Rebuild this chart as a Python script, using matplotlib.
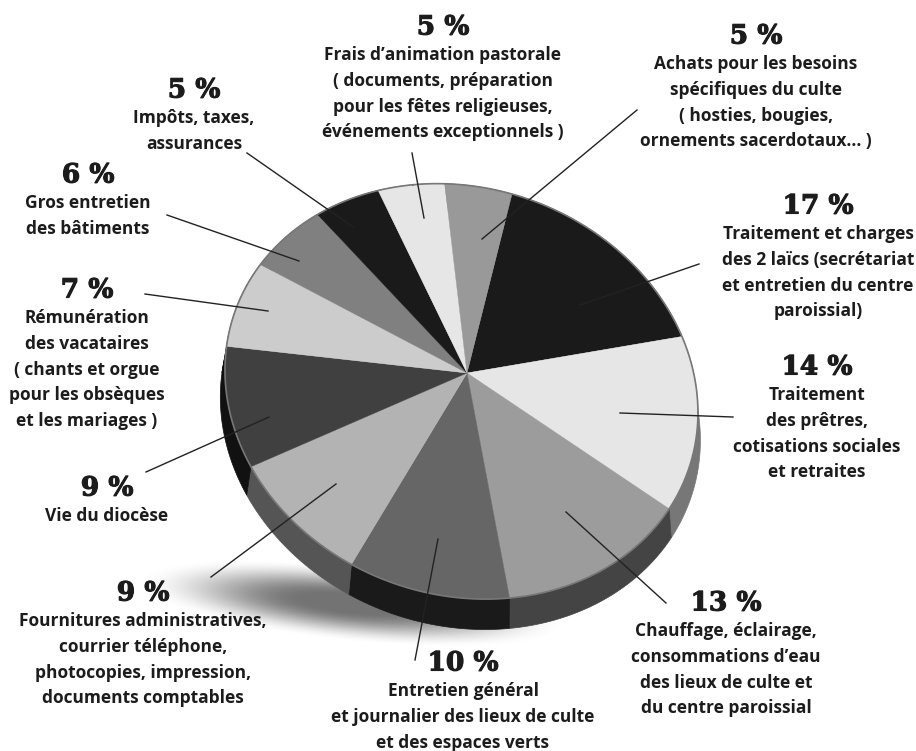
import numpy as np
import matplotlib
matplotlib.use("Agg")
import matplotlib.pyplot as plt
import matplotlib.patheffects as pe
from matplotlib.colors import LinearSegmentedColormap

# shares, clockwise from the big black slice
values = [17, 14, 13, 10, 9, 9, 7, 6, 5, 5, 5]
top_grey = ["#1a1a1a", "#e6e6e6", "#9c9c9c", "#666666", "#b3b3b3", "#404040",
            "#cccccc", "#808080", "#1a1a1a", "#e6e6e6", "#999999"]
side_grey = ["#555555", "#777777", "#444444", "#1a1a1a", "#555555", "#111111",
             "#111111", "#555555", "#555555", "#555555", "#555555"]

pct = ["17 %", "14 %", "13 %", "10 %", "9 %", "9 %", "7 %", "6 %", "5 %", "5 %", "5 %"]
labels = [
    ["Traitement et charges", "des 2 laïcs (secrétariat", "et entretien du centre", "paroissial)"],
    ["Traitement", "des prêtres,", "cotisations sociales", "et retraites"],
    ["Chauffage, éclairage,", "consommations d’eau", "des lieux de culte et", "du centre paroissial"],
    ["Entretien général", "et journalier des lieux de culte", "et des espaces verts"],
    ["Fournitures administratives,", "courrier téléphone,", "photocopies, impression,", "documents comptables"],
    ["Vie du diocèse"],
    ["Rémunération", "des vacataires", "( chants et orgue", "pour les obsèques", "et les mariages )"],
    ["Gros entretien", "des bâtiments"],
    ["Impôts, taxes,", "assurances"],
    ["Frais d’animation pastorale", "( documents, préparation", "pour les fêtes religieuses,", "événements exceptionnels )"],
    ["Achats pour les besoins", "spécifiques du culte", "( hosties, bougies,", "ornements sacerdotaux... )"],
]
label_x = [818, 817, 726, 463, 143, 107, 87, 88, 194, 443, 756]
label_y = [206, 367, 603, 663, 593, 488, 290, 175, 90, 27, 36]
leaders = [
    ((699, 264), (580, 305)), ((733, 417), (620, 413)), ((666, 603), (566, 512)),
    ((415, 660), (438, 539)), ((211, 577), (336, 484)), ((146, 472), (269, 417)),
    ((145, 294), (268, 311)), ((167, 215), (299, 261)), ((247, 153), (353, 227)),
    ((412, 153), (424, 218)), ((637, 110), (482, 239)),
]

# perspective of the disc, fitted on the slice borders of the picture
cx, cy = 467, 373
a, b, c, d, g, h = 227.96, 58.62, -30.13, 203.80, 0.0454, -0.0827
start = 26.5


def project(t, dx=0.0, dy=0.0, scale=1.0):
    u, v = np.sin(t), -np.cos(t)
    w = 1 + g * u + h * v
    return cx + dx + scale * (a * u + b * v) / w, cy + dy + scale * (c * u + d * v) / w


fig = plt.figure(figsize=(9.16, 7.51), dpi=100)
ax = fig.add_axes([0, 0, 1, 1])

# soft ground shadow, a tilted smeared band
yy, xx = np.mgrid[540:670, 130:600]
slope = np.radians(6)
s = (xx - 350) * np.cos(slope) + (yy - 603) * np.sin(slope)
n = -(xx - 350) * np.sin(slope) + (yy - 603) * np.cos(slope)
dist = np.sqrt((s / 215.0) ** 2 + (n / 38.0) ** 2)
shade = np.clip((1 - dist) / 0.8, 0, 1)
shade = shade * shade * (3 - 2 * shade)
shade_map = LinearSegmentedColormap.from_list("shade", ["#ffffff", "#737373"])
ax.imshow(shade, extent=(130, 600, 670, 540), cmap=shade_map, vmin=0, vmax=1,
          aspect="auto", zorder=1, interpolation="bilinear")
ax.set_xlim(0, 916)
ax.set_ylim(751, 0)
ax.axis("off")

edges = np.radians(start + 3.6 * np.cumsum([0] + values))

# side of the pie first, then the top
for i in range(len(values)):
    t = np.linspace(edges[i], edges[i + 1], 60)
    x, y = project(t, dx=-1, dy=27, scale=1.015)
    x0, y0 = project(t)
    ax.fill(np.r_[x, x0[::-1]], np.r_[y, y0[::-1]], color=side_grey[i], lw=0.5, zorder=2)

for i in range(len(values)):
    t = np.linspace(edges[i], edges[i + 1], 60)
    x, y = project(t)
    ax.fill(np.r_[cx, x], np.r_[cy, y], color=top_grey[i], lw=0.3, zorder=3)

t = np.linspace(0, 2 * np.pi, 400)
x, y = project(t)
ax.plot(x, y, color="#777777", lw=1.2, zorder=4)

for p, q in leaders:
    ax.plot([p[0], q[0]], [p[1], q[1]], color="#222222", lw=1.0, zorder=5)

ink = "#1c1c1c"
for i in range(len(values)):
    ax.text(label_x[i], label_y[i], pct[i], family="DejaVu Serif", weight="bold",
            fontsize=19, color=ink, ha="center", va="center", zorder=6,
            path_effects=[pe.withStroke(linewidth=0.8, foreground=ink)])
    for j, line in enumerate(labels[i]):
        ax.text(label_x[i], label_y[i] + 28 + 25.8 * j, line, family="Open Sans",
                weight="bold", fontsize=12.5, color=ink, ha="center", va="center", zorder=6)

fig.savefig("out.png", dpi=100)
